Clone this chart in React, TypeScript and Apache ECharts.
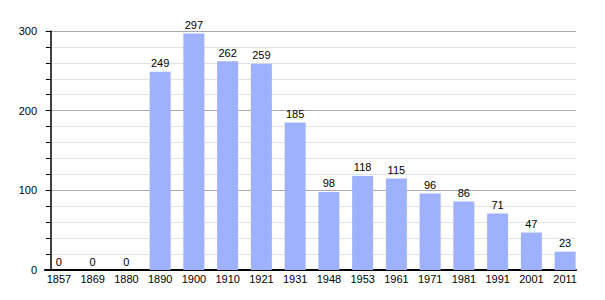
import React, { useEffect, useRef } from "react";
import * as echarts from "echarts";

const years = ["1857","1869","1880","1890","1900","1910","1921","1931","1948","1953","1961","1971","1981","1991","2001","2011"];
const population = [0,0,0,249,297,262,259,185,98,118,115,96,86,71,47,23];
const yTicks = [0, 100, 200, 300];

export default function App() {
  const ref = useRef<HTMLDivElement>(null);
  useEffect(() => {
    document.body.style.margin = "0";
    if (!ref.current) return;
    const chart = echarts.init(ref.current, null, { renderer: "svg" });
    const font = "'Liberation Sans', Arial, sans-serif";
    const yMin = yTicks[0];
    const yMax = yTicks[yTicks.length - 1];
    chart.setOption({
      animation: false,
      grid: [
        { left: 42, right: 23, top: 31, bottom: 30 },
        { left: 45, right: 29, top: 31, bottom: 30 },
      ],
      xAxis: [
        {
          type: "category",
          gridIndex: 0,
          data: years,
          axisLine: { show: false },
          axisTick: { show: false },
          axisLabel: { color: "#000", fontSize: 11, fontFamily: font, margin: 3, interval: 0 },
        },
        {
          type: "value",
          gridIndex: 1,
          min: 0,
          max: 1,
          axisLine: { show: true, lineStyle: { color: "#000", width: 2 } },
          axisTick: { show: false },
          axisLabel: { show: false },
          splitLine: { show: false },
        },
      ],
      yAxis: [
        {
          type: "value",
          gridIndex: 0,
          min: yMin,
          max: yMax,
          interval: 100,
          show: false,
          splitLine: { show: false },
        },
        {
          type: "value",
          gridIndex: 1,
          min: yMin,
          max: yMax,
          interval: 100,
          offset: -6,
          axisLine: { show: true, lineStyle: { color: "#000", width: 1.5 } },
          axisTick: { show: true, length: 5, lineStyle: { color: "#000" } },
          minorTick: { show: true, splitNumber: 5, length: 5, lineStyle: { color: "#000" } },
          splitLine: { show: true, lineStyle: { color: "#aaa", width: 1 } },
          minorSplitLine: { show: true, lineStyle: { color: "#e2e2e2", width: 1 } },
          axisLabel: { color: "#000", fontSize: 11, fontFamily: font, margin: 14 },
        },
      ],
      series: [
        {
          type: "bar",
          xAxisIndex: 0,
          yAxisIndex: 0,
          data: population,
          barWidth: 21,
          z: 3,
          itemStyle: { color: "#9db1fd" },
          label: {
            show: true,
            position: "top",
            distance: 3,
            color: "#000",
            fontSize: 11,
            fontFamily: font,
          },
        },
      ],
    });
    return () => chart.dispose();
  }, []);
  return <div ref={ref} style={{ width: 605, height: 300 }} />;
}
